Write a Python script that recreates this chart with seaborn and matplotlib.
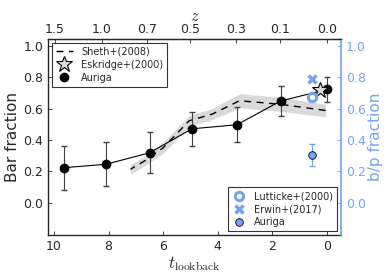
import numpy as np
import matplotlib
matplotlib.use("Agg")
import matplotlib.pyplot as plt
import seaborn as sns
import pandas as pd

# --- DATA ---
# Auriga bar fraction vs lookback time
aur_t = [9.65, 8.1, 6.5, 4.95, 3.3, 1.7, 0.0]
aur_bar = [0.223, 0.245, 0.318, 0.471, 0.497, 0.648, 0.722]
aur_err = [0.14, 0.14, 0.13, 0.11, 0.11, 0.093, 0.082]

# Sheth+(2008) observed bar fraction
sheth_t = [7.2, 6.6, 6.0, 5.05, 4.2, 3.2, 1.7, 0.05]
sheth_bar = [0.213, 0.275, 0.35, 0.522, 0.565, 0.65, 0.627, 0.588]
sheth_err = [0.03, 0.03, 0.035, 0.035, 0.035, 0.045, 0.045, 0.04]

# Eskridge+(2000)
esk_t = [0.26]
esk_bar = [0.72]

# b/p fraction
lut_t, lut_bp = [0.56], [0.675]
erw_t, erw_bp = [0.56], [0.786]
aur_bp_t, aur_bp, aur_bp_err = [0.55], [0.304], [0.07]

# top redshift axis
z_labels = ["1.5", "1.0", "0.7", "0.5", "0.3", "0.1", "0.0"]
z_pos = [9.98, 8.25, 6.6, 5.0, 3.34, 1.72, 0.0]

BLUE = "#74a2ee"

sns.set_style("ticks")
plt.rcParams["font.family"] = ["DejaVu Sans"]
plt.rcParams["mathtext.fontset"] = "cm"
plt.rcParams["xtick.direction"] = "in"
plt.rcParams["ytick.direction"] = "in"

fig = plt.figure(figsize=(3.9, 2.77), dpi=100)
ax = fig.add_axes([0.123, 0.152, 0.751, 0.707])

sheth = pd.DataFrame({"t": sheth_t, "f": sheth_bar, "e": sheth_err})
ax.fill_between(sheth.t, sheth.f - sheth.e, sheth.f + sheth.e,
                color="0.85", lw=0, zorder=1)
sns.lineplot(data=sheth, x="t", y="f", ax=ax, color="k", lw=1,
             linestyle=(0, (5, 4)), label="Sheth+(2008)", zorder=2)

ax.plot(esk_t, esk_bar, marker="*", ms=12, mfc="0.85", mec="k", mew=0.8,
        ls="none", label="Eskridge+(2000)", zorder=5)

ax.errorbar(aur_t, aur_bar, yerr=aur_err, color="k", ecolor="0.25",
            lw=0.8, elinewidth=0.8, capsize=2.5, zorder=3)
ax.plot(aur_t, aur_bar, "o", color="k", ms=6, label="Auriga", zorder=4)

ax.set_xlim(10.22, -0.51)
ax.set_ylim(-0.205, 1.043)
ax.set_xticks([10, 8, 6, 4, 2, 0])
ax.set_yticks([0.0, 0.2, 0.4, 0.6, 0.8, 1.0])
ax.tick_params(labelsize=9, length=3, width=0.6)
ax.set_xlabel(r"$t_{\rm lookback}$", fontsize=12, labelpad=1)
ax.set_ylabel("Bar fraction", fontsize=11, labelpad=2)
for s in ax.spines.values():
    s.set_linewidth(1.0)
ax.spines["right"].set_visible(False)

handles, labels = ax.get_legend_handles_labels()
leg = ax.legend(handles, labels, loc="upper left", fontsize=7,
                frameon=True, fancybox=False, edgecolor="k",
                handlelength=1.8, borderpad=0.4, labelspacing=0.3,
                borderaxespad=0.4)
leg.get_frame().set_linewidth(0.8)

# right axis: b/p fraction
ax2 = ax.twinx()
ax2.set_ylim(ax.get_ylim())
ax2.set_yticks([0.0, 0.2, 0.4, 0.6, 0.8, 1.0])
ax2.tick_params(axis="y", colors=BLUE, labelsize=9, length=3, width=0.6)
ax2.spines["right"].set_color(BLUE)
ax2.spines["right"].set_linewidth(1.2)
for k in ["left", "top", "bottom"]:
    ax2.spines[k].set_visible(False)
ax2.set_ylabel("b/p fraction", color=BLUE, fontsize=11, labelpad=2)

ax2.plot(lut_t, lut_bp, "o", mfc="none", mec=BLUE, mew=2.2, ms=6,
         ls="none", label="Lutticke+(2000)")
ax2.plot(erw_t, erw_bp, "x", color=BLUE, mew=2.5, ms=6,
         ls="none", label="Erwin+(2017)")
ax2.errorbar(aur_bp_t, aur_bp, yerr=aur_bp_err, fmt="none", ecolor=BLUE,
             elinewidth=0.8, capsize=2.5)
ax2.plot(aur_bp_t, aur_bp, "o", mfc=BLUE, mec="k", mew=0.6, ms=5.5,
         ls="none", label="Auriga")
leg2 = ax2.legend(loc="lower right", fontsize=7, frameon=True,
                  fancybox=False, edgecolor="k", handlelength=1.5,
                  borderpad=0.4, labelspacing=0.3, borderaxespad=0.4)
leg2.get_frame().set_linewidth(0.8)

# top axis: redshift
ax3 = ax.twiny()
ax3.set_xlim(ax.get_xlim())
ax3.set_xticks(z_pos)
ax3.set_xticklabels(z_labels)
ax3.tick_params(axis="x", labelsize=9, length=3, width=0.6, pad=2)
ax3.set_xlabel(r"$z$", fontsize=12, labelpad=2)
for k in ["left", "right", "bottom"]:
    ax3.spines[k].set_visible(False)

fig.savefig("out.png", dpi=100)
